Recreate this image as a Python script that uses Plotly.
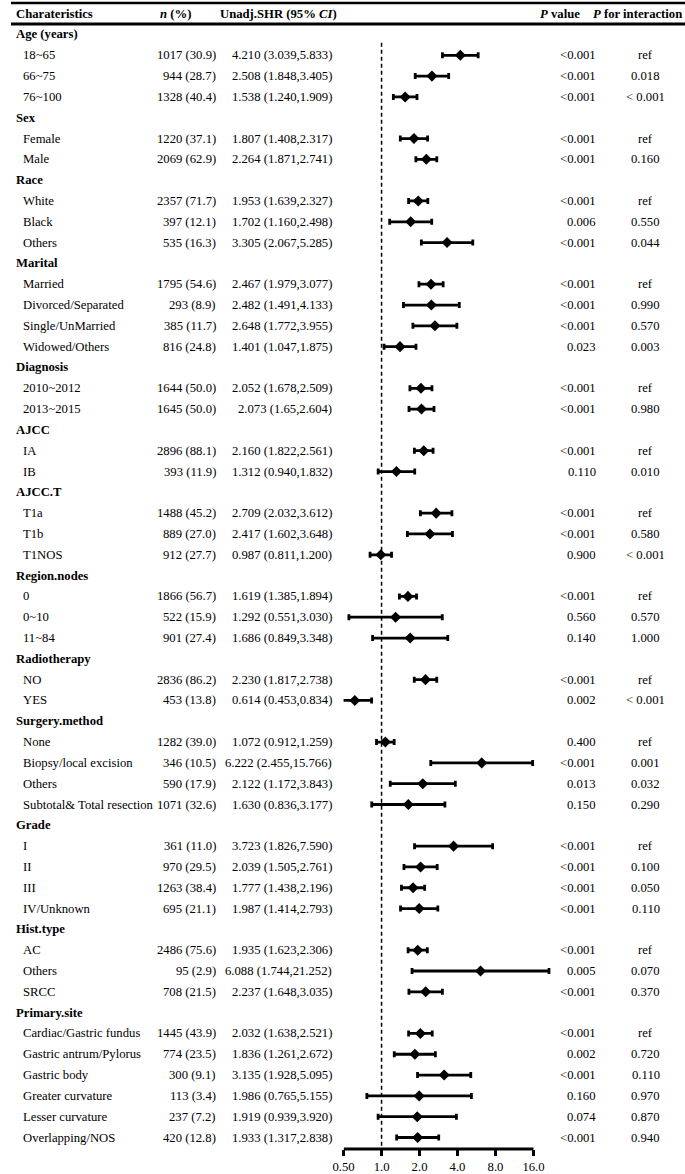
import math
import plotly.graph_objects as go

# groups and how many levels each has (in display order)
group_names = ["Age (years)", "Sex", "Race", "Marital", "Diagnosis", "AJCC", "AJCC.T",
               "Region.nodes", "Radiotherapy", "Surgery.method", "Grade", "Hist.type", "Primary.site"]
group_counts = [3, 2, 3, 4, 2, 2, 3, 3, 2, 4, 4, 3, 6]

labels = ["18~65", "66~75", "76~100",
          "Female", "Male",
          "White", "Black", "Others",
          "Married", "Divorced/Separated", "Single/UnMarried", "Widowed/Others",
          "2010~2012", "2013~2015",
          "IA", "IB",
          "T1a", "T1b", "T1NOS",
          "0", "0~10", "11~84",
          "NO", "YES",
          "None", "Biopsy/local excision", "Others", "Subtotal& Total resection",
          "I", "II", "III", "IV/Unknown",
          "AC", "Others", "SRCC",
          "Cardiac/Gastric fundus", "Gastric antrum/Pylorus", "Gastric body",
          "Greater curvature", "Lesser curvature", "Overlapping/NOS"]

n_count = [1017, 944, 1328,
           1220, 2069,
           2357, 397, 535,
           1795, 293, 385, 816,
           1644, 1645,
           2896, 393,
           1488, 889, 912,
           1866, 522, 901,
           2836, 453,
           1282, 346, 590, 1071,
           361, 970, 1263, 695,
           2486, 95, 708,
           1445, 774, 300, 113, 237, 420]

n_pct = [30.9, 28.7, 40.4,
         37.1, 62.9,
         71.7, 12.1, 16.3,
         54.6, 8.9, 11.7, 24.8,
         50.0, 50.0,
         88.1, 11.9,
         45.2, 27.0, 27.7,
         56.7, 15.9, 27.4,
         86.2, 13.8,
         39.0, 10.5, 17.9, 32.6,
         11.0, 29.5, 38.4, 21.1,
         75.6, 2.9, 21.5,
         43.9, 23.5, 9.1, 3.4, 7.2, 12.8]

shr = ["4.210", "2.508", "1.538",
       "1.807", "2.264",
       "1.953", "1.702", "3.305",
       "2.467", "2.482", "2.648", "1.401",
       "2.052", "2.073",
       "2.160", "1.312",
       "2.709", "2.417", "0.987",
       "1.619", "1.292", "1.686",
       "2.230", "0.614",
       "1.072", "6.222", "2.122", "1.630",
       "3.723", "2.039", "1.777", "1.987",
       "1.935", "6.088", "2.237",
       "2.032", "1.836", "3.135", "1.986", "1.919", "1.933"]

ci_low = ["3.039", "1.848", "1.240",
          "1.408", "1.871",
          "1.639", "1.160", "2.067",
          "1.979", "1.491", "1.772", "1.047",
          "1.678", "1.65",
          "1.822", "0.940",
          "2.032", "1.602", "0.811",
          "1.385", "0.551", "0.849",
          "1.817", "0.453",
          "0.912", "2.455", "1.172", "0.836",
          "1.826", "1.505", "1.438", "1.414",
          "1.623", "1.744", "1.648",
          "1.638", "1.261", "1.928", "0.765", "0.939", "1.317"]

ci_high = ["5.833", "3.405", "1.909",
           "2.317", "2.741",
           "2.327", "2.498", "5.285",
           "3.077", "4.133", "3.955", "1.875",
           "2.509", "2.604",
           "2.561", "1.832",
           "3.612", "3.648", "1.200",
           "1.894", "3.030", "3.348",
           "2.738", "0.834",
           "1.259", "15.766", "3.843", "3.177",
           "7.590", "2.761", "2.196", "2.793",
           "2.306", "21.252", "3.035",
           "2.521", "2.672", "5.095", "5.155", "3.920", "2.838"]

p_value = ["<0.001", "<0.001", "<0.001",
           "<0.001", "<0.001",
           "<0.001", "0.006", "<0.001",
           "<0.001", "<0.001", "<0.001", "0.023",
           "<0.001", "<0.001",
           "<0.001", "0.110",
           "<0.001", "<0.001", "0.900",
           "<0.001", "0.560", "0.140",
           "<0.001", "0.002",
           "0.400", "<0.001", "0.013", "0.150",
           "<0.001", "<0.001", "<0.001", "<0.001",
           "<0.001", "0.005", "<0.001",
           "<0.001", "0.002", "<0.001", "0.160", "0.074", "<0.001"]

p_inter = ["ref", "0.018", "< 0.001",
           "ref", "0.160",
           "ref", "0.550", "0.044",
           "ref", "0.990", "0.570", "0.003",
           "ref", "0.980",
           "ref", "0.010",
           "ref", "0.580", "< 0.001",
           "ref", "0.570", "1.000",
           "ref", "< 0.001",
           "ref", "0.001", "0.032", "0.290",
           "ref", "0.100", "0.050", "0.110",
           "ref", "0.070", "0.370",
           "ref", "0.720", "0.110", "0.970", "0.870", "0.940"]

tick_vals = [0.5, 1, 2, 4, 8, 16]
tick_text = ["0.50", "1.0", "2.0", "4.0", "8.0", "16.0"]

W, H = 685, 1174
FONT = "Liberation Serif"
FS = 12.7

# row positions: a header row then its levels
header_rows = []
item_rows = []
r = 0
for cnt in group_counts:
    header_rows.append(r)
    r += 1
    for k in range(cnt):
        item_rows.append(r)
        r += 1

est = [float(v) for v in shr]
lo = [float(v) for v in ci_low]
hi = [float(v) for v in ci_high]

fig = go.Figure()
fig.add_trace(go.Scatter(
    x=est, y=item_rows, mode="markers",
    marker=dict(symbol="diamond", size=8.5, color="black"),
    error_x=dict(type="data", symmetric=False,
                 array=[h - e for h, e in zip(hi, est)],
                 arrayminus=[e - l for e, l in zip(est, lo)],
                 thickness=2.8, width=3, color="black"),
    hoverinfo="skip", showlegend=False, cliponaxis=False
))

ann = []
def text(x, y, s, anchor, yref="y"):
    # x given in page pixels
    ann.append(dict(x=x / W, y=y, xref="paper", yref=yref, text=s, showarrow=False,
                    xanchor=anchor, yanchor="middle", borderpad=0,
                    font=dict(family=FONT, size=FS, color="black")))

# column headers
hy = 1 - 14 / H
text(4, hy, "<b>Charateristics</b>", "left", "paper")
text(150, hy, "<b><i>n</i> (%)</b>", "left", "paper")
text(211, hy, "<b>Unadj.SHR (95% <i>CI</i>)</b>", "left", "paper")
text(579, hy, "<b><i>P</i> value</b>", "right", "paper")
text(683, hy, "<b><i>P</i> for interaction</b>", "right", "paper")

for g, row in zip(group_names, header_rows):
    text(4, row, "<b>" + g + "</b>", "left")

for i, row in enumerate(item_rows):
    text(11, row, labels[i], "left")
    text(209, row, f"{n_count[i]} ({n_pct[i]:.1f})", "right")
    text(327, row, f"{shr[i]} ({ci_low[i]},{ci_high[i]})", "right")
    text(596, row, p_value[i], "right")
    text(645, row, p_inter[i], "center")

# pixel layout of the forest panel
x_left, x_right_16 = 338, 531
per_doubling = (x_right_16 - x_left) / math.log2(tick_vals[-1] / tick_vals[0])
x_max = 22
x_right = x_left + per_doubling * math.log2(x_max / tick_vals[0])
row_top, row_pitch = 34.5, 20.83
y_top_px, y_axis_px = 24, 1150
y_bottom = (y_axis_px - row_top) / row_pitch

fig.update_layout(
    width=W, height=H,
    margin=dict(l=0, r=0, t=0, b=0),
    paper_bgcolor="white", plot_bgcolor="white",
    showlegend=False,
    annotations=ann,
    xaxis=dict(type="log", range=[math.log10(tick_vals[0]), math.log10(x_max)],
               domain=[x_left / W, x_right / W],
               tickmode="array", tickvals=tick_vals, ticktext=tick_text,
               ticks="outside", ticklen=6, tickwidth=2.5, tickcolor="black",
               showline=False, showgrid=False, zeroline=False,
               tickfont=dict(family=FONT, size=FS, color="black")),
    yaxis=dict(range=[y_bottom, (y_top_px - row_top) / row_pitch],
               domain=[1 - y_axis_px / H, 1 - y_top_px / H],
               visible=False, showgrid=False, zeroline=False),
    shapes=[
        dict(type="line", xref="paper", yref="paper", x0=0, x1=1,
             y0=1 - 3 / H, y1=1 - 3 / H, line=dict(color="black", width=2.5)),
        dict(type="line", xref="paper", yref="paper", x0=0, x1=1,
             y0=1 - 24 / H, y1=1 - 24 / H, line=dict(color="black", width=3)),
        dict(type="line", xref="x", yref="y", x0=1, x1=1,
             y0=0.4, y1=y_bottom, layer="below",
             line=dict(color="black", width=1.5, dash="4px,3px")),
        dict(type="line", xref="x", yref="y domain", x0=tick_vals[0], x1=tick_vals[-1],
             y0=0, y1=0, line=dict(color="black", width=3)),
    ],
)

fig.write_html("out.html", config={"displayModeBar": False},
               post_script="document.body.style.margin = '0px';")
